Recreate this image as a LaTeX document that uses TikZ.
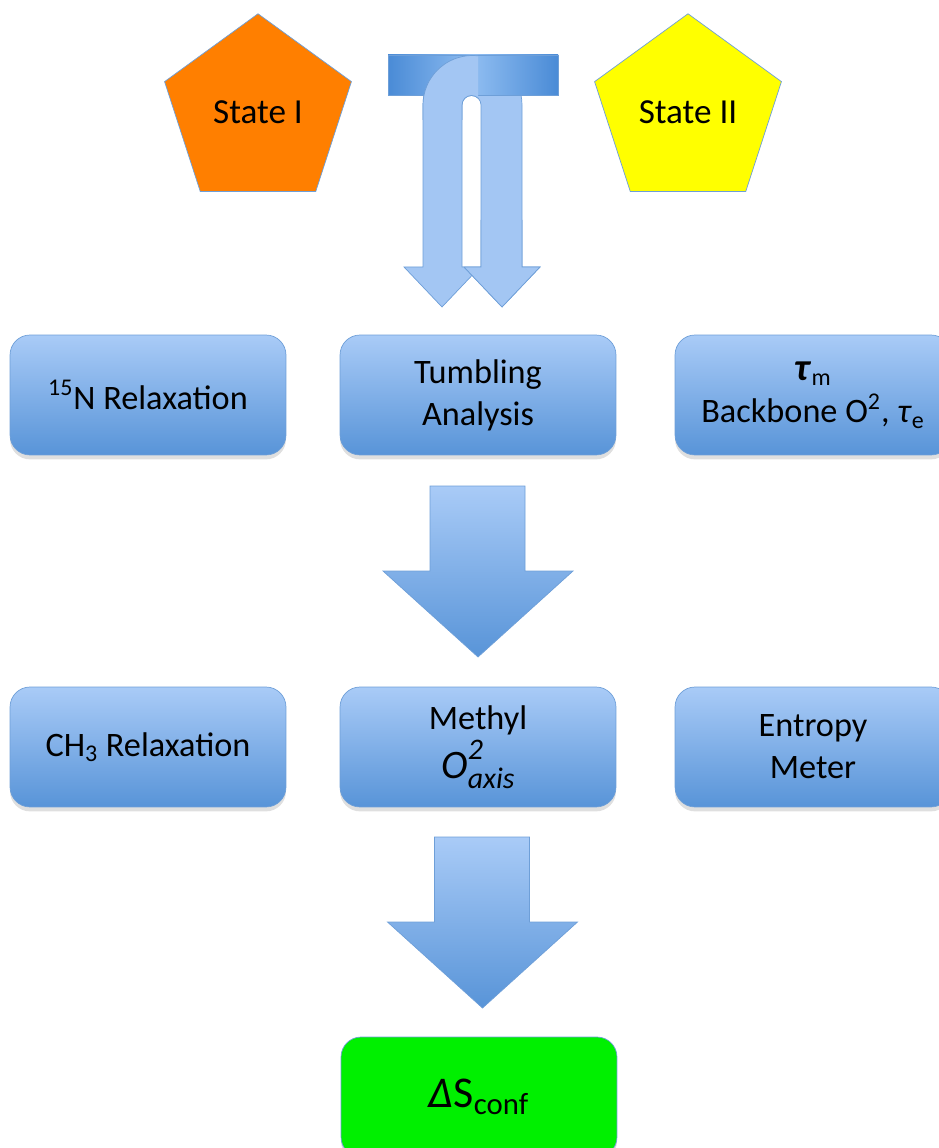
\documentclass[tikz,border=0pt]{standalone}
\usepackage{amsmath}
\usepackage{fontspec}
\setmainfont{Carlito}
\usepackage{tikz}
\usetikzlibrary{shapes.geometric,shadows,positioning,calc}

\definecolor{boxtop}{HTML}{A9CBF7}
\definecolor{boxbot}{HTML}{5894D8}
\definecolor{boxline}{HTML}{6E9FD8}
\definecolor{barmid}{HTML}{8FBDF1}
\definecolor{baredge}{HTML}{4A8BD6}
\definecolor{uturnblue}{HTML}{A3C6F3}
\definecolor{stateone}{HTML}{FF7F00}
\definecolor{statetwo}{HTML}{FFFF00}
\definecolor{resultgreen}{HTML}{00F000}

\newcommand{\boxfont}{\fontsize{19.5}{24}\selectfont}
\newcommand{\statefont}{\fontsize{20}{24}\selectfont}
\newcommand{\bigfont}{\fontsize{25}{30}\selectfont}
\newcommand{\smallit}[1]{{\fontsize{17}{17}\selectfont\textit{#1}}}
\newcommand{\uturnpath}{(423,267) -- (423,105) arc (180:360:49.5) -- (522,267) -- (540,267) -- (502,307) -- (464,267) -- (481,267) -- (481,105) arc (360:180:9.5) -- (462,267) -- (480,267) -- (442,307) -- (404,267) -- cycle}

\tikzset{
  boxbase/.style={draw=boxline, rounded corners=0.4cm, minimum width=5.52cm,
                  minimum height=2.4cm, align=center,
                  drop shadow={shadow xshift=0pt, shadow yshift=-2.5pt, opacity=0.25}},
  stepbox/.style={boxbase, top color=boxtop, bottom color=boxbot, font=\boxfont},
  resultbox/.style={boxbase, fill=resultgreen, font=\bigfont},
  statebox/.style={regular polygon, regular polygon sides=5, draw=boxline,
                   minimum size=3.93cm, inner sep=0pt, font=\statefont},
  bigarrow/.style={draw=boxline, top color=boxtop, bottom color=boxbot},
  uturn/.style={draw=boxline, fill=uturnblue},
  barshade/.style={draw=boxline, left color=baredge, right color=baredge, middle color=barmid}
}

\begin{document}
\begin{tikzpicture}[x=0.02cm, y=-0.02cm]
  \useasboundingbox (0,0) rectangle (938,1148);

  % the two states
  \node[statebox, fill=stateone] (state1) at (258,112) {State I};
  \node[statebox, fill=statetwo] (state2) at (688,112) {State II};

  % twisted arrow
  \draw[uturn] \uturnpath;
  \draw[uturn] (481,220) -- (481,267) -- (464,267) -- (502,307) -- (540,267) -- (522,267) -- (522,220);
  \draw[barshade] (388,55) rectangle (558,95);
  \begin{scope}
    \clip (380,40) rectangle (478,120);
    \draw[uturn] \uturnpath;
  \end{scope}

  % first row
  \node[stepbox] (nrelax) at (148,395) {\textsuperscript{15}N Relaxation};
  \node[stepbox] (tumbling) at (478,395) {Tumbling\\Analysis};
  \node[stepbox] (taum) at (813,395) {{\fontsize{22}{24}\selectfont\textbf{\textit{τ}}}\textsubscript{m}\\Backbone O\textsuperscript{2}, \textit{τ}\textsubscript{e}};

  % second row
  \node[stepbox] (ch3relax) at (148,747) {CH\textsubscript{3} Relaxation};
  \node[stepbox] (methyl) at (478,747) {Methyl\\[2pt]
    {\fontsize{23}{24}\selectfont\textit{O}}\makebox[0pt][l]{\raisebox{0.55em}{\smallit{2}}}\raisebox{-0.3em}{\smallit{axis}}};
  \node[stepbox] (entropy) at (813,747) {Entropy\\Meter};

  % result
  \node[resultbox] (dsconf) at (479,1097) {\textit{Δ}S$_{\text{conf}}$};

  % block arrows
  \coordinate (mid1) at ($(tumbling.south)!0.5!(methyl.north)$);
  \coordinate (mid2) at ($(methyl.south)!0.5!(dsconf.north)$);
  \begin{scope}[shift={(mid1)}]
    \draw[bigarrow] (-48,-85) -- (47,-85) -- (47,0) -- (95,0) -- (0,86) -- (-95,0) -- (-48,0) -- cycle;
  \end{scope}
  \begin{scope}[shift={(mid2)}]
    \draw[bigarrow] (-44,-85) -- (51,-85) -- (51,0) -- (99,0) -- (4,86) -- (-91,0) -- (-44,0) -- cycle;
  \end{scope}
\end{tikzpicture}
\end{document}
